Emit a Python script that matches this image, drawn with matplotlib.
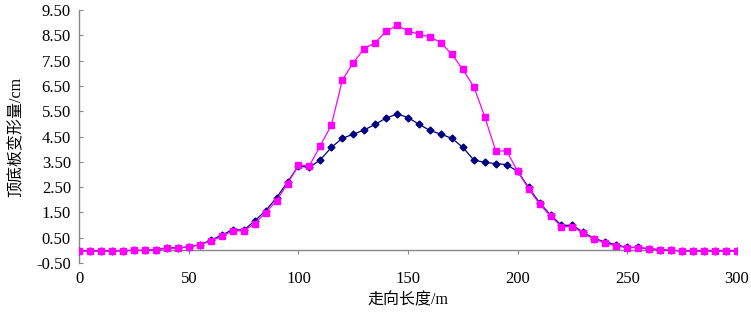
import matplotlib.pyplot as plt
import numpy as np

# 走向长度 (m)
x_m = np.arange(0, 301, 5)

# 顶底板变形量 (cm), series
navy_cm = [
    -0.02, -0.02, -0.02, -0.02, -0.01, 0.00, 0.00, 0.03, 0.10, 0.10,
    0.14, 0.22, 0.40, 0.60, 0.82, 0.80, 1.16, 1.57, 2.08, 2.70,
    3.33, 3.28, 3.58, 4.07, 4.43, 4.59, 4.76, 4.98, 5.23, 5.39,
    5.25, 4.98, 4.74, 4.59, 4.43, 4.07, 3.57, 3.48, 3.43, 3.39,
    3.12, 2.49, 1.88, 1.40, 0.99, 0.99, 0.71, 0.46, 0.34, 0.21,
    0.12, 0.12, 0.05, 0.03, 0.00, -0.02, -0.02, -0.02, -0.02, -0.02,
    -0.02,
]
magenta_cm = [
    -0.02, -0.02, -0.02, -0.02, -0.01, 0.00, 0.00, 0.03, 0.08, 0.09,
    0.14, 0.22, 0.37, 0.55, 0.77, 0.77, 1.05, 1.49, 1.96, 2.64,
    3.36, 3.35, 4.14, 4.95, 6.73, 7.42, 7.97, 8.21, 8.66, 8.89,
    8.67, 8.54, 8.44, 8.21, 7.75, 7.15, 6.47, 5.28, 3.93, 3.93,
    3.12, 2.44, 1.83, 1.36, 0.94, 0.94, 0.67, 0.44, 0.30, 0.17,
    0.11, 0.11, 0.07, 0.03, 0.00, -0.02, -0.02, -0.02, -0.02, -0.02,
    -0.02,
]
y_ticks = np.arange(-0.5, 9.51, 1.0)
x_ticks = np.arange(0, 301, 50)

plt.rcParams["font.family"] = ["Liberation Serif", "Noto Sans CJK SC"]

fig = plt.figure(figsize=(7.51, 3.14), dpi=100)
ax = fig.add_axes([0.1056, 0.1624, 0.8755, 0.8057])

ax.plot(x_m, navy_cm, color="#000080", lw=0.9, marker="D", ms=3.5, zorder=3)
ax.plot(x_m, magenta_cm, color="#FF00FF", lw=0.9, marker="s", ms=4.2, zorder=4)

ax.set_xlim(0, 300)
ax.set_ylim(-0.5, 9.5)
ax.set_xticks(x_ticks)
ax.set_yticks(y_ticks)
ax.set_yticklabels([f"{v:.2f}" for v in y_ticks])

for side in ("top", "right"):
    ax.spines[side].set_visible(False)
ax.spines["bottom"].set_position(("data", 0))
for side in ("left", "bottom"):
    ax.spines[side].set_color("#888888")
    ax.spines[side].set_linewidth(1.0)

ax.tick_params(axis="y", direction="in", length=3, color="#888888", labelsize=12, pad=6)
ax.tick_params(axis="x", direction="out", length=3, color="#888888", labelsize=12, pad=12)

ax.set_ylabel("顶底板变形量/cm", fontsize=11.5, labelpad=8)
ax.set_xlabel("走向长度/m", fontsize=11.5, labelpad=4)

fig.savefig("out.png", dpi=100)
